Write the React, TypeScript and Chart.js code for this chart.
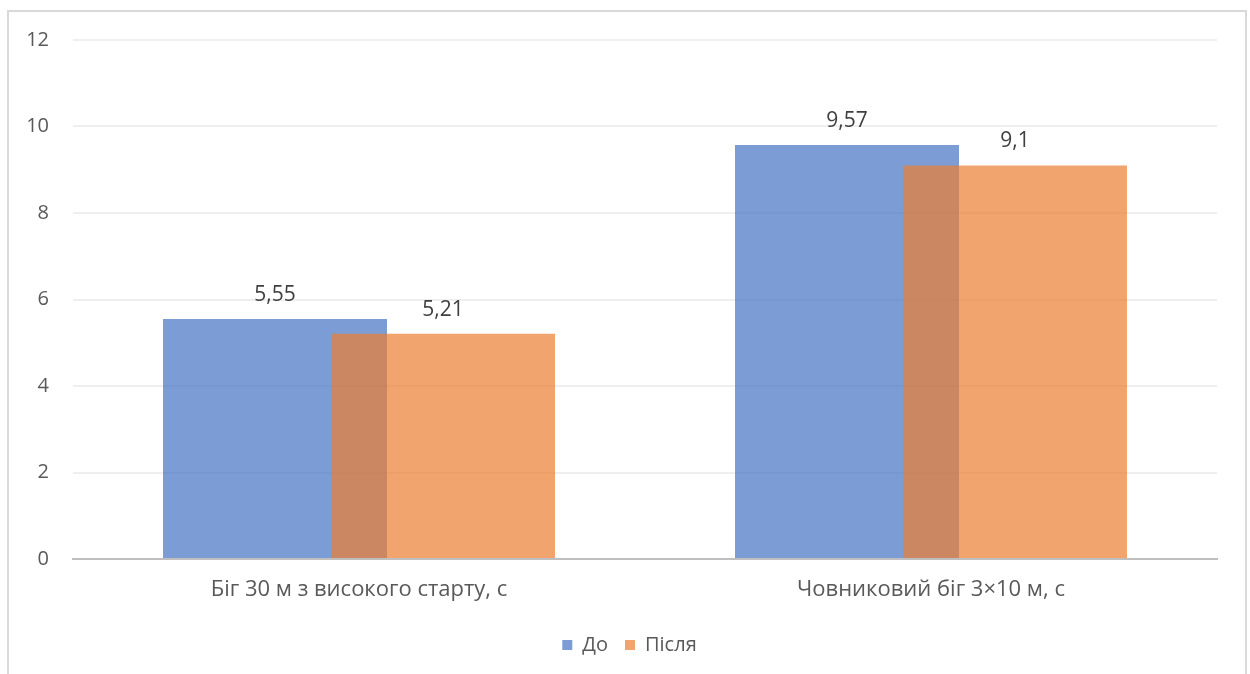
import React, { useEffect, useRef } from "react";
import { Chart, registerables } from "chart.js";

Chart.register(...registerables);

// Test categories and the two measurement rounds (seconds)
const categories = ["Біг 30 м з високого старту, с", "Човниковий біг 3×10 м, с"];
const seriesNames = ["До", "Після"];
const beforeValues = [5.55, 9.57];
const afterValues = [5.21, 9.1];
const yTicks = [0, 2, 4, 6, 8, 10, 12];

const FONT = "'Open Sans', 'Noto Sans', sans-serif";

// Paint datasets in their natural order so the second series overlaps the first
const overlapOrder = {
  id: "overlapOrder",
  beforeDatasetsDraw(chart: any) {
    for (let i = 0; i < chart.data.datasets.length; i++) {
      const meta = chart.getDatasetMeta(i);
      if (meta.visible !== false) meta.controller.draw();
    }
    return false;
  },
};

// Nudge the legend so it sits centred under the plot like the original layout
const legendShift = {
  id: "legendShift",
  afterLayout(chart: any) {
    const lg = chart.legend;
    if (lg) {
      lg.left += 21;
      lg.right += 21;
    }
  },
};

// Writes each bar's value above it, using a decimal comma
const valueLabels = {
  id: "valueLabels",
  afterDraw(chart: any) {
    const ctx = chart.ctx;
    ctx.save();
    ctx.font = `21px ${FONT}`;
    ctx.fillStyle = "#404040";
    ctx.textAlign = "center";
    ctx.textBaseline = "middle";
    chart.data.datasets.forEach((ds: any, di: number) => {
      const meta = chart.getDatasetMeta(di);
      meta.data.forEach((el: any, i: number) => {
        const v = ds.data[i] as number;
        ctx.fillText(String(v).replace(".", ","), el.x, el.y - 24);
      });
    });
    ctx.restore();
  },
};

export default function App() {
  const canvasRef = useRef<HTMLCanvasElement | null>(null);

  useEffect(() => {
    if (!canvasRef.current) return;
    const chart = new Chart(canvasRef.current, {
      type: "bar",
      data: {
        labels: categories,
        datasets: [
          {
            label: seriesNames[0],
            data: beforeValues,
            backgroundColor: "rgba(68,114,196,0.7)",
            borderWidth: 0,
          },
          {
            label: seriesNames[1],
            data: afterValues,
            backgroundColor: "rgba(237,125,49,0.7)",
            borderWidth: 0,
          },
        ],
      },
      options: {
        animation: false,
        responsive: true,
        maintainAspectRatio: false,
        datasets: {
          bar: {
            categoryPercentage: 0.5874,
            barPercentage: 1.3333,
          },
        },
        layout: { padding: { left: 0, right: 33, top: 40, bottom: 9 } },
        plugins: {
          tooltip: { enabled: false },
          legend: {
            position: "bottom",
            labels: {
              boxWidth: 10,
              boxHeight: 10,
              padding: 17,
              color: "#595959",
              font: { family: FONT, size: 20 },
            },
          },
        },
        scales: {
          x: {
            grid: { display: false, drawTicks: false },
            border: { display: true, color: "#BFBFBF", width: 2 },
            ticks: {
              color: "#595959",
              font: { family: FONT, size: 22 },
              padding: 18,
            },
            afterFit: (scale: any) => {
              scale.height = 59;
            },
          },
          y: {
            min: 0,
            max: 12,
            afterBuildTicks: (scale: any) => {
              scale.ticks = yTicks.map((v) => ({ value: v }));
            },
            grid: { color: "#EFEFEF", lineWidth: 2, drawTicks: false },
            border: { display: false },
            ticks: {
              color: "#595959",
              font: { family: FONT, size: 20 },
              padding: 24,
            },
            afterFit: (scale: any) => {
              scale.width = 73;
            },
          },
        },
      },
      plugins: [overlapOrder, legendShift, valueLabels],
    });
    return () => chart.destroy();
  }, []);

  return (
    <div
      style={{
        position: "fixed",
        left: 0,
        top: 0,
        width: 1250,
        height: 674,
        background: "#fff",
        overflow: "hidden",
      }}
    >
      <div
        style={{
          position: "absolute",
          left: 7,
          top: 10,
          width: 1240,
          height: 700,
          boxSizing: "border-box",
          border: "2px solid #D9D9D9",
        }}
      />
      <div style={{ position: "absolute", left: 0, top: 0, width: 1250, height: 674 }}>
        <canvas ref={canvasRef} />
      </div>
    </div>
  );
}
